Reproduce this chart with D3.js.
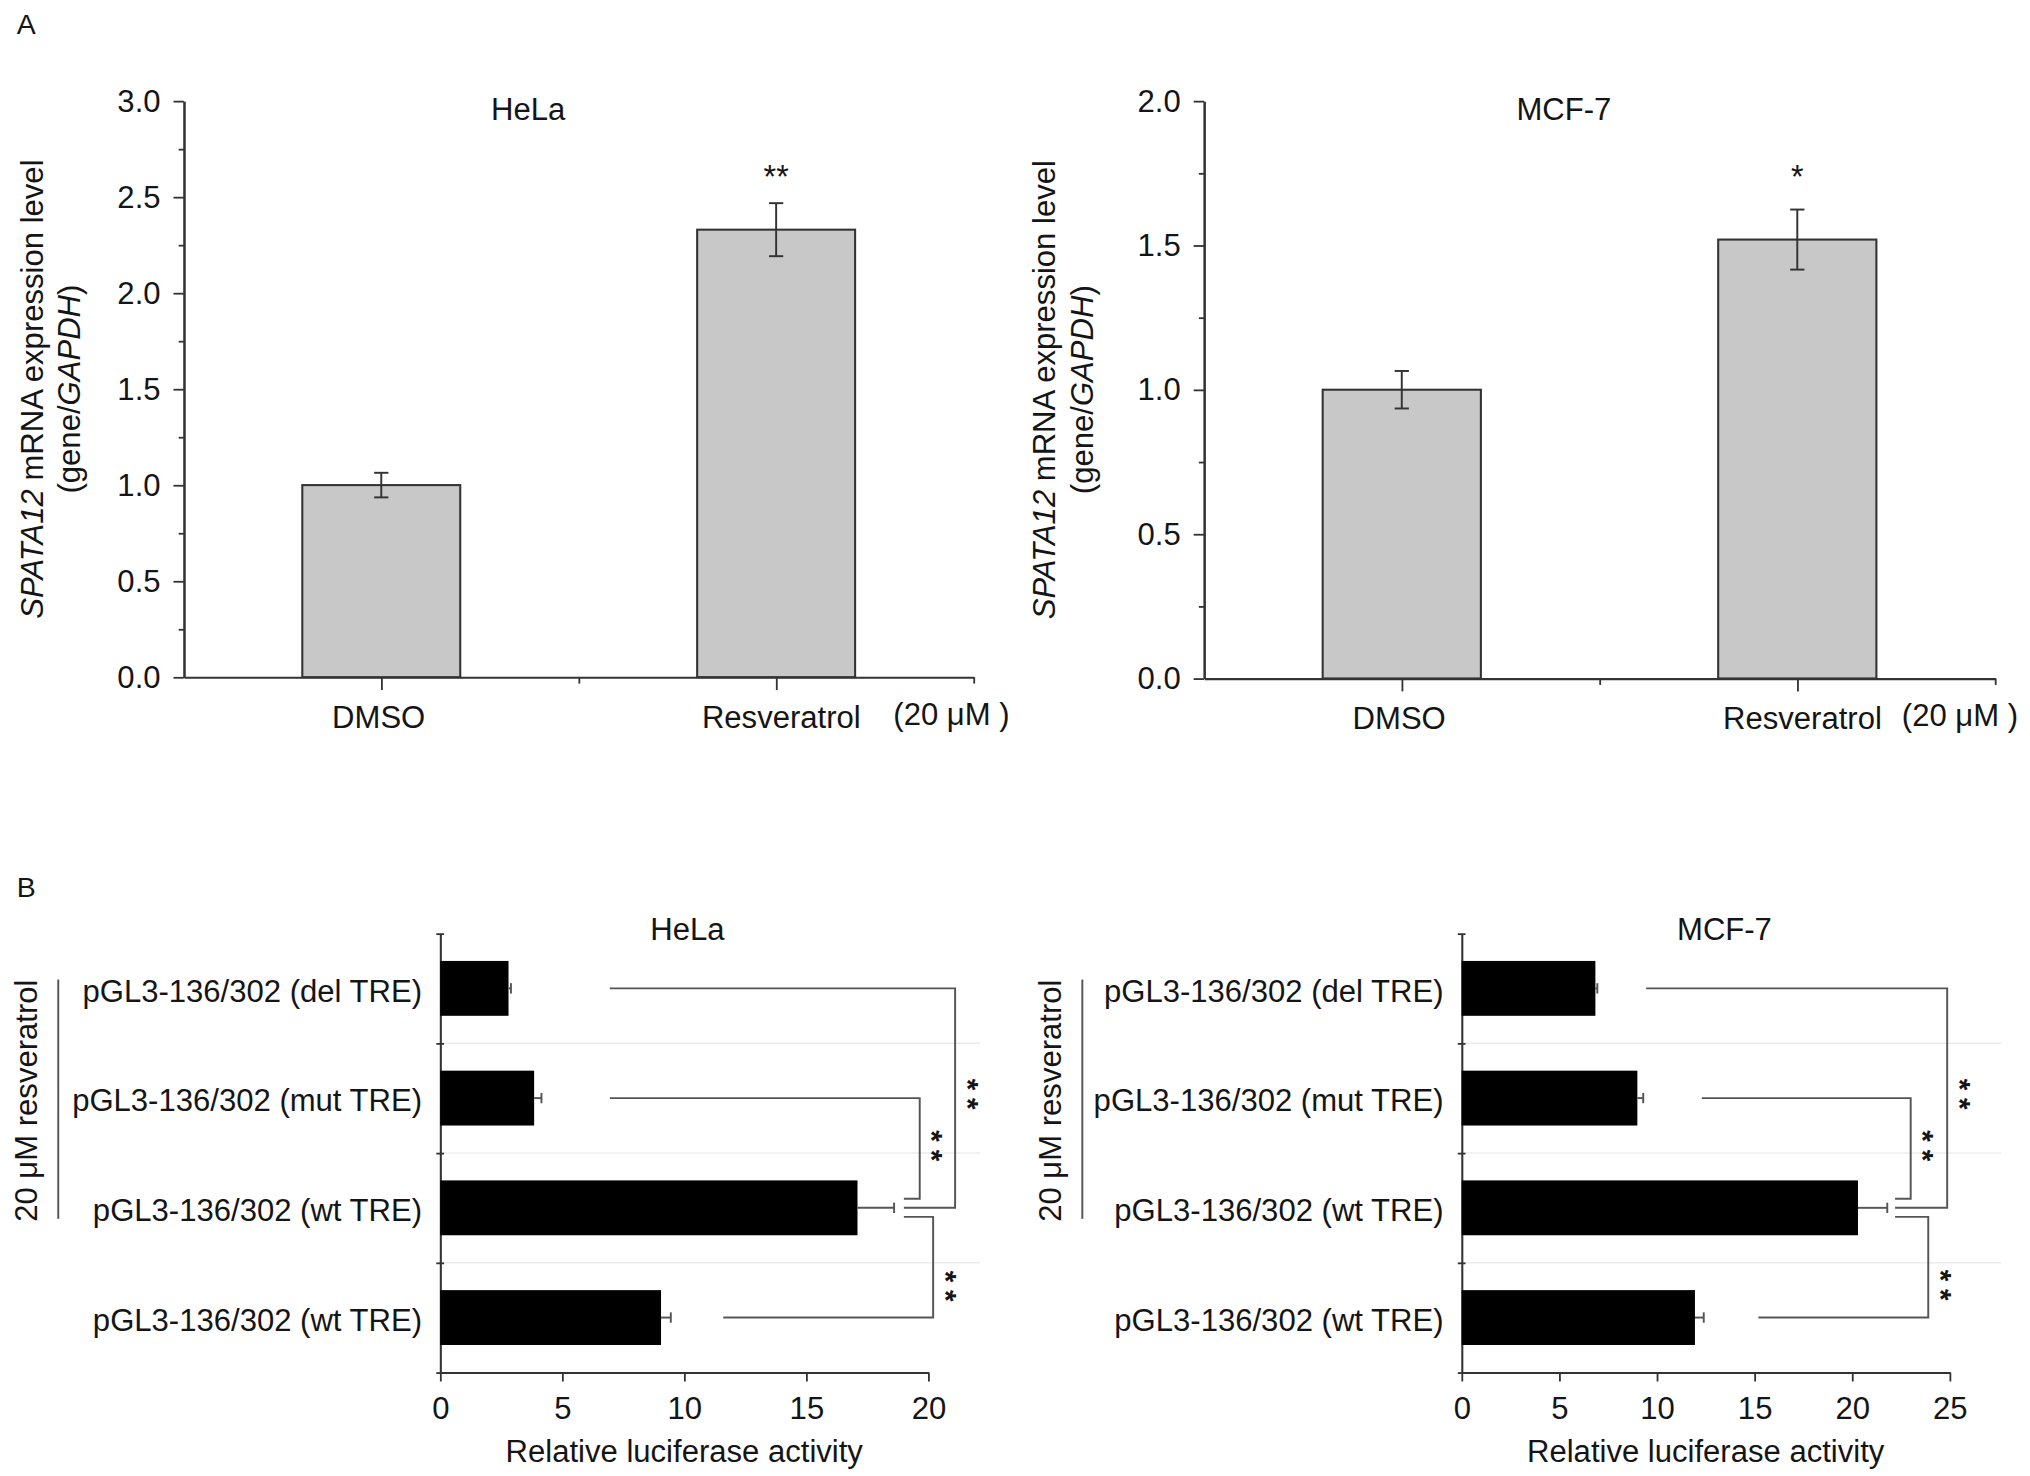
<!DOCTYPE html>
<html lang="en">
<head>
    <meta charset="UTF-8">
    <script src="https://cdnjs.cloudflare.com/ajax/libs/d3/7.8.5/d3.min.js" type="text/JavaScript"></script>
    <style>
        body { margin: 0; background: #fff; }
        text { font-family: "Liberation Sans", Arial, sans-serif; fill: #151515; }
    </style>
</head>
<body>
<div id="viz"></div>
<script>
    // panel A: SPATA12 mRNA (gene/GAPDH)
    const exprCategories = ['DMSO', 'Resveratrol'];
    const helaExpr = [1.0, 2.33];
    const helaExprErr = [0.064, 0.138];
    const mcfExpr = [1.0, 1.52];
    const mcfExprErr = [0.065, 0.104];
    const helaExprTicks = [0, 0.5, 1.0, 1.5, 2.0, 2.5, 3.0];
    const mcfExprTicks = [0, 0.5, 1.0, 1.5, 2.0];

    // panel B: relative luciferase activity
    const constructs = ['pGL3-136/302 (del TRE)', 'pGL3-136/302 (mut TRE)',
                        'pGL3-136/302 (wt TRE)', 'pGL3-136/302 (wt TRE)'];
    const helaLuc = [2.8, 3.85, 17.1, 9.05];
    const helaLucErr = [0.1, 0.3, 1.5, 0.4];
    const mcfLuc = [6.85, 9.0, 20.3, 11.95];
    const mcfLucErr = [0.1, 0.3, 1.5, 0.45];
    const helaLucTicks = [0, 5, 10, 15, 20];
    const mcfLucTicks = [0, 5, 10, 15, 20, 25];

    // significance brackets (x in data units, rows by construct index)
    const helaBrackets = [
        {from: 0, to: 2, start: 6.95, side: 21.1, stub: 19.0, shift: 0, star: 1.0},
        {from: 1, to: 2, start: 6.95, side: 19.65, stub: 19.0, shift: -1, star: 1.47},
        {from: 3, to: 2, start: 11.6, side: 20.2, stub: 19.0, shift: 1, star: 2.75}
    ];
    const mcfBrackets = [
        {from: 0, to: 2, start: 9.45, side: 24.87, stub: 22.2, shift: 0, star: 1.0},
        {from: 1, to: 2, start: 12.3, side: 23.0, stub: 22.2, shift: -1, star: 1.47},
        {from: 3, to: 2, start: 15.2, side: 23.9, stub: 22.2, shift: 1, star: 2.74}
    ];

    const svg = d3.select('#viz').append('svg')
        .attr('width', 2030).attr('height', 1476)
        .attr('viewBox', '0 0 1568 1140')
        .attr('preserveAspectRatio', 'none');

    const ink = '#333';
    const fs = 24;

    function styleAxis(g) {
        g.select('.domain').attr('stroke', ink).attr('stroke-width', 1.6);
        g.selectAll('.tick line').attr('stroke', ink).attr('stroke-width', 1.4);
        g.selectAll('.tick text').attr('font-size', fs).attr('fill', '#151515')
            .attr('font-family', '"Liberation Sans", Arial, sans-serif');
    }

    function exprPanel(c) {
        const g = svg.append('g');
        const yMax = d3.max(c.ticks);
        const y = d3.scaleLinear().domain([0, yMax]).range([c.bottom, c.top]);
        const xPos = d3.scaleLinear().domain([0, 2]).range([c.left, c.right]);
        const xBand = d3.scaleBand().domain(d3.range(c.values.length)).range([c.left, c.right]);

        // minor ticks
        g.append('g').attr('transform', `translate(${c.left},0)`)
            .call(d3.axisLeft(y).tickValues(d3.range(0.25, yMax, 0.5)).tickSize(4).tickFormat('').tickSizeOuter(0))
            .call(styleAxis);
        g.append('g').attr('transform', `translate(${c.left},0)`)
            .call(d3.axisLeft(y).tickValues(c.ticks).tickSize(8).tickPadding(10)
                .tickFormat(d3.format('.1f')).tickSizeOuter(0))
            .call(styleAxis);

        const xa = g.append('g').attr('transform', `translate(0,${c.bottom})`)
            .call(d3.axisBottom(xPos).tickValues([0.5, 1, 1.5, 2]).tickSize(10).tickFormat('').tickSizeOuter(0))
            .call(styleAxis);
        xa.selectAll('.tick line').attr('y2', d => d % 1 === 0 ? 5 : 10);

        const bw = xBand.bandwidth() * 0.4;
        g.selectAll('rect.bar').data(c.values).enter().append('rect')
            .attr('class', 'bar')
            .attr('x', (d, i) => xBand(i) + xBand.bandwidth() / 2 - bw / 2)
            .attr('width', bw)
            .attr('y', d => y(d))
            .attr('height', d => c.bottom - y(d))
            .attr('fill', '#c8c8c8').attr('stroke', ink).attr('stroke-width', 1.6);

        const err = g.selectAll('g.err').data(c.values).enter().append('g')
            .attr('transform', (d, i) => `translate(${xBand(i) + xBand.bandwidth() / 2},0)`);
        err.append('line').attr('y1', (d, i) => y(d - c.errors[i])).attr('y2', (d, i) => y(d + c.errors[i]));
        err.append('line').attr('x1', -5.5).attr('x2', 5.5)
            .attr('y1', (d, i) => y(d + c.errors[i])).attr('y2', (d, i) => y(d + c.errors[i]));
        err.append('line').attr('x1', -5.5).attr('x2', 5.5)
            .attr('y1', (d, i) => y(d - c.errors[i])).attr('y2', (d, i) => y(d - c.errors[i]));
        err.selectAll('line').attr('stroke', ink).attr('stroke-width', 1.5);

        g.selectAll('text.cat').data(exprCategories).enter().append('text')
            .attr('x', (d, i) => xBand(i) + xBand.bandwidth() / 2 + (i ? 4 : -2))
            .attr('y', c.bottom + 39)
            .attr('text-anchor', 'middle').attr('font-size', fs)
            .text(d => d);
        g.append('text').attr('x', c.unitX).attr('y', c.bottom + 37)
            .attr('font-size', fs).text('(20 \u03bcM )');

        g.append('text').attr('x', c.titleX).attr('y', 93)
            .attr('text-anchor', 'middle').attr('font-size', fs).text(c.title);
        g.append('text').attr('x', xBand(1) + xBand.bandwidth() / 2).attr('y', 145)
            .attr('text-anchor', 'middle').attr('font-size', 25).text(c.sig);

        const midY = (c.top + c.bottom) / 2;
        const l1 = g.append('text').attr('transform', `translate(${c.labelX},${midY}) rotate(-90)`)
            .attr('text-anchor', 'middle').attr('font-size', fs);
        l1.append('tspan').attr('font-style', 'italic').text('SPATA12');
        l1.append('tspan').text(' mRNA expression level');
        const l2 = g.append('text').attr('transform', `translate(${c.labelX + 29},${midY}) rotate(-90)`)
            .attr('text-anchor', 'middle').attr('font-size', fs);
        l2.append('tspan').text('(gene/');
        l2.append('tspan').attr('font-style', 'italic').text('GAPDH');
        l2.append('tspan').text(')');
    }

    function lucPanel(c) {
        const g = svg.append('g');
        const x = d3.scaleLinear().domain([0, d3.max(c.ticks)]).range([c.left, c.right]);
        const yb = d3.scaleBand().domain(d3.range(constructs.length)).range([c.top, c.bottom])
            .paddingInner(0.5).paddingOuter(0.25);
        const yEdge = d3.scaleLinear().domain([0, constructs.length]).range([c.top, c.bottom]);
        const mid = i => yEdge(i + 0.5);

        // faint separators
        g.selectAll('line.sep').data([1, 2, 3]).enter().append('line')
            .attr('x1', c.left).attr('x2', c.right + 40)
            .attr('y1', d => yEdge(d)).attr('y2', d => yEdge(d))
            .attr('stroke', '#ececec').attr('stroke-width', 1.2);

        const ya = g.append('g').attr('transform', `translate(${c.left},0)`)
            .call(d3.axisLeft(yEdge).tickValues(d3.range(0, constructs.length + 1)).tickSize(3)
                .tickFormat('').tickSizeOuter(0))
            .call(styleAxis);
        ya.selectAll('.tick line').attr('x1', 3);

        g.append('g').attr('transform', `translate(0,${c.bottom})`)
            .call(d3.axisBottom(x).tickValues(c.ticks).tickSize(7).tickPadding(12).tickSizeOuter(0))
            .call(styleAxis);

        g.selectAll('rect.bar').data(c.values).enter().append('rect')
            .attr('x', c.left).attr('y', (d, i) => yb(i))
            .attr('width', d => x(d) - c.left).attr('height', yb.bandwidth())
            .attr('fill', '#000');

        const err = g.selectAll('g.err').data(c.values).enter().append('g');
        err.append('line').attr('x1', d => x(d)).attr('x2', (d, i) => x(d + c.errors[i]))
            .attr('y1', (d, i) => mid(i)).attr('y2', (d, i) => mid(i));
        err.append('line').attr('x1', (d, i) => x(d + c.errors[i])).attr('x2', (d, i) => x(d + c.errors[i]))
            .attr('y1', (d, i) => mid(i) - 4).attr('y2', (d, i) => mid(i) + 4);
        err.selectAll('line').attr('stroke', '#555').attr('stroke-width', 1.5);

        g.selectAll('text.lab').data(constructs).enter().append('text')
            .attr('x', c.left - 14).attr('y', (d, i) => mid(i)).attr('dy', '0.43em')
            .attr('text-anchor', 'end').attr('font-size', fs).text(d => d);

        g.selectAll('path.br').data(c.brackets).enter().append('path')
            .attr('d', b => `M${x(b.start)},${mid(b.from)}H${x(b.side)}V${mid(b.to) + b.shift * 7}H${x(b.stub)}`)
            .attr('fill', 'none').attr('stroke', '#555').attr('stroke-width', 1.5);
        g.selectAll('text.star').data(c.brackets).enter().append('text')
            .attr('transform', b => `translate(${x(b.side) + 2},${yEdge(b.star + 0.5)}) rotate(90)`)
            .attr('text-anchor', 'middle').attr('font-size', 23).attr('font-weight', 'bold')
            .attr('letter-spacing', 6)
            .text('**');

        g.append('text').attr('x', c.titleX).attr('y', c.top + 5)
            .attr('text-anchor', 'middle').attr('font-size', fs).text(c.title);
        g.append('text').attr('x', (c.left + c.right) / 2).attr('y', c.bottom + 69)
            .attr('text-anchor', 'middle').attr('font-size', fs).text('Relative luciferase activity');

        const grpMid = (yEdge(0) + yEdge(3)) / 2 + 2;
        g.append('text').attr('transform', `translate(${c.groupX},${grpMid}) rotate(-90)`)
            .attr('text-anchor', 'middle').attr('dy', '0.35em').attr('font-size', fs)
            .text('20 \u03bcM resveratrol');
        g.append('line').attr('x1', c.groupX + 25).attr('x2', c.groupX + 25)
            .attr('y1', yEdge(0.42)).attr('y2', yEdge(2.6))
            .attr('stroke', '#555').attr('stroke-width', 1.5);
    }

    svg.append('text').attr('x', 13).attr('y', 26).attr('font-size', 22).text('A');
    svg.append('text').attr('x', 13).attr('y', 693).attr('font-size', 22).text('B');

    exprPanel({values: helaExpr, errors: helaExprErr, ticks: helaExprTicks, title: 'HeLa', sig: '**',
        left: 142, right: 752, top: 78, bottom: 523, titleX: 408, unitX: 690, labelX: 33});
    exprPanel({values: mcfExpr, errors: mcfExprErr, ticks: mcfExprTicks, title: 'MCF-7', sig: '*',
        left: 930, right: 1541, top: 78, bottom: 524, titleX: 1208, unitX: 1469, labelX: 815});

    lucPanel({values: helaLuc, errors: helaLucErr, ticks: helaLucTicks, brackets: helaBrackets, title: 'HeLa',
        left: 340, right: 717, top: 721, bottom: 1060, titleX: 531, groupX: 20});
    lucPanel({values: mcfLuc, errors: mcfLucErr, ticks: mcfLucTicks, brackets: mcfBrackets, title: 'MCF-7',
        left: 1129, right: 1506, top: 721, bottom: 1060, titleX: 1332, groupX: 811});
</script>
</body>
</html>
